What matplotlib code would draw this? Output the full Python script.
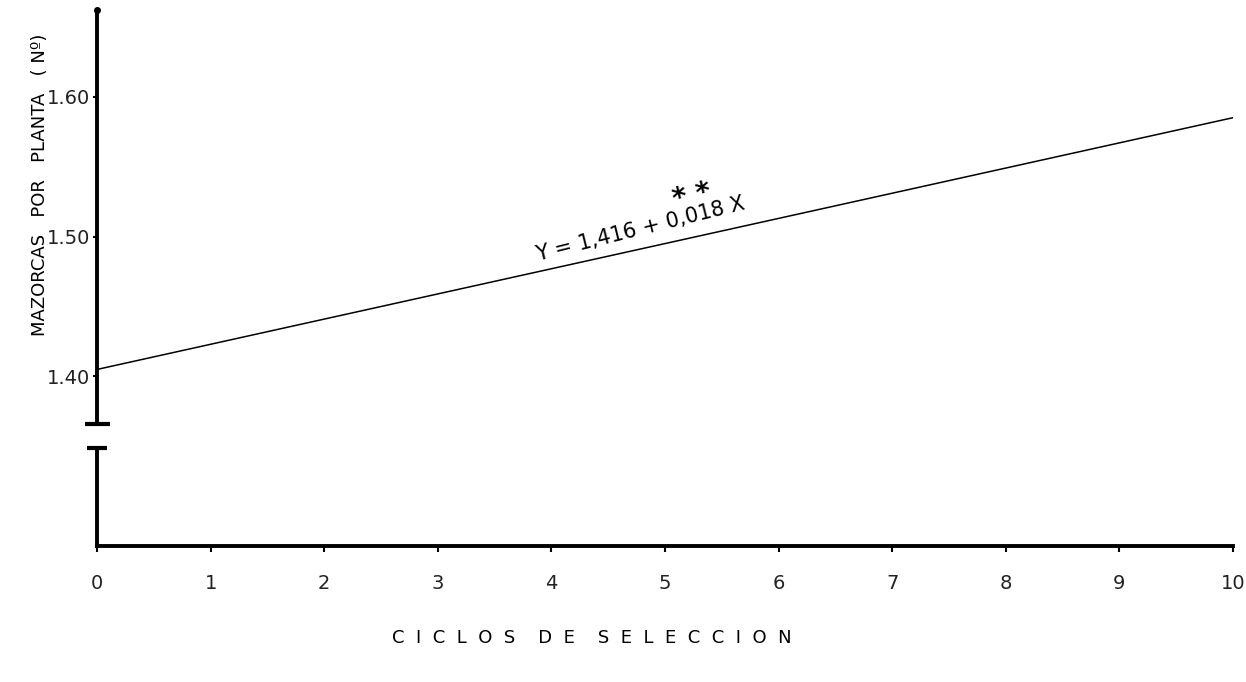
import matplotlib
matplotlib.use('Agg')
import matplotlib.pyplot as plt

# data
ciclos = [0, 10]
mazorcas = [1.405, 1.585]
y_ticks = [1.40, 1.50, 1.60]
y_tick_labels = ['1.40', '1.50', '1.60']
x_ticks = list(range(0, 11))
x_tick_labels = [str(i) for i in x_ticks]
ecuacion = 'Y = 1,416 + 0,018 X'

W, H = 1246, 682
fig = plt.figure(figsize=(W / 100, H / 100), dpi=100)
plt.rcParams['font.family'] = ['DejaVu Sans']


def box(x0, y0, x1, y1):
    # pixel box (top-left origin) -> figure fraction rect
    return [x0 / W, 1 - y1 / H, (x1 - x0) / W, (y1 - y0) / H]


# upper part: the data panel above the axis break
ax = fig.add_axes(box(97, 10, 1233, 424))
ax.plot(ciclos, mazorcas, color='black', lw=1.1, solid_capstyle='round')
ax.set_xlim(0, 10)
ax.set_ylim(1.366, 1.662)
for s in ['top', 'right', 'bottom']:
    ax.spines[s].set_visible(False)
ax.spines['left'].set_linewidth(2.8)
ax.set_xticks([])
ax.set_yticks(y_ticks)
ax.set_yticklabels(y_tick_labels, fontsize=14, color='#222222')
ax.tick_params(axis='y', direction='out', length=3, width=1.5, pad=2)
# break caps and top point
ax.plot([0], [0], transform=ax.transAxes, marker='_', ms=18, mew=3,
        color='black', clip_on=False)
ax.plot([0], [1], transform=ax.transAxes, marker='o', ms=4,
        color='black', clip_on=False)

ax.text(4.8, 1.498, ecuacion, rotation=14, fontsize=15,
        ha='center', va='bottom', rotation_mode='anchor')
ax.text(5.24, 1.529, '* *', rotation=13, fontsize=20, fontweight='bold',
        ha='center', va='center')

# lower part: the stub below the break, with the x axis
ax2 = fig.add_axes(box(97, 448, 1233, 546))
ax2.set_xlim(0, 10)
ax2.set_ylim(0, 1)
for s in ['top', 'right']:
    ax2.spines[s].set_visible(False)
ax2.spines['left'].set_linewidth(2.8)
ax2.spines['bottom'].set_linewidth(2.8)
ax2.set_yticks([])
ax2.set_xticks(x_ticks)
ax2.set_xticklabels(x_tick_labels, fontsize=14, color='#222222')
ax2.tick_params(axis='x', direction='out', length=4, width=1.5, pad=16)
ax2.plot([0], [1], transform=ax2.transAxes, marker='_', ms=14, mew=3,
         color='black', clip_on=False)

fig.text(592 / W, 1 - 638 / H, 'C  I  C  L  O  S    D  E    S  E  L  E  C  C  I  O  N',
         fontsize=13, ha='center', va='center')
fig.text(40 / W, 1 - 185 / H, 'MAZORCAS   POR   PLANTA   ( Nº)',
         fontsize=13, rotation=90, ha='center', va='center')

fig.savefig('out.png', dpi=100, facecolor='white')
